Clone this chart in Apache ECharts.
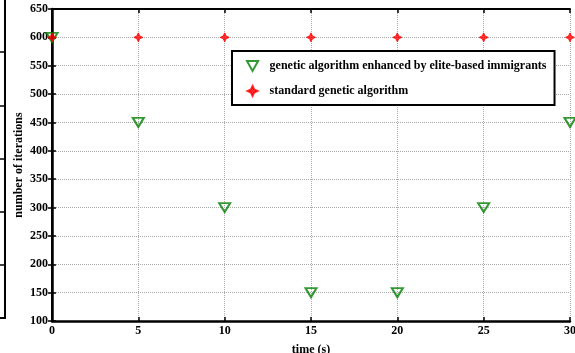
<!DOCTYPE html>
<html>
<head>
<meta charset="utf-8">
<script src="https://cdn.jsdelivr.net/npm/echarts@6/dist/echarts.min.js"></script>
<style>
  html, body { margin: 0; padding: 0; background: #fff; }
  #chart { width: 575px; height: 353px; }
</style>
</head>
<body>
<div id="chart"></div>
<script>
// Time samples (s) and iteration counts for the two algorithms
const timeSeconds = [0, 5, 10, 15, 20, 25, 30];
const eliteImmigrantsIterations = [600, 450, 300, 150, 150, 300, 450];
const standardGaIterations = [600, 600, 600, 600, 600, 600, 600];
const seriesNames = [
  'genetic algorithm enhanced by elite-based immigrants',
  'standard genetic algorithm'
];
const xLabel = 'time (s)';
const yLabel = 'number of iterations';

const FONT = '"Liberation Serif", "Times New Roman", serif';
const toPairs = (xs, ys) => xs.map((x, i) => [x, ys[i]]);

const downTriangle = 'path://M0,0 L10,0 L5,9 Z';
const redStar = 'path://M5,0 L6.6,3.4 L10,5 L6.6,6.6 L5,10 L3.4,6.6 L0,5 L3.4,3.4 Z';

const frameAxis = {
  type: 'value',
  min: 0, max: 30, interval: 5,
  axisLine: { show: true, lineStyle: { color: '#000', width: 2 } },
  axisTick: { show: true, inside: true, length: 4, lineStyle: { color: '#000', width: 1.5 } },
  axisLabel: { show: false },
  splitLine: { show: false }
};

const chart = echarts.init(document.getElementById('chart'), null, { renderer: 'canvas' });
chart.setOption({
  animation: false,
  backgroundColor: '#fff',
  grid: { left: 52, right: 5, top: 9, bottom: 32, containLabel: false, outerBoundsMode: 'none' },
  xAxis: [
    {
      type: 'value', min: 0, max: 30, interval: 5, position: 'bottom',
      name: xLabel, nameLocation: 'middle', nameGap: 23, nameMoveOverlap: false,
      nameTextStyle: { fontFamily: FONT, fontWeight: 'bold', fontSize: 12, color: '#000' },
      axisLine: { show: true, lineStyle: { color: '#000', width: 2.5 } },
      axisTick: { show: true, inside: true, length: 4, lineStyle: { color: '#000', width: 1.5 } },
      axisLabel: { fontFamily: FONT, fontWeight: 'bold', fontSize: 12, color: '#000', margin: 4 },
      splitLine: { show: true, lineStyle: { color: '#aaa', type: 'dotted', width: 1 } }
    },
    Object.assign({}, frameAxis, { position: 'top' })
  ],
  yAxis: [
    {
      type: 'value', min: 100, max: 650, interval: 50, position: 'left',
      name: yLabel, nameLocation: 'middle', nameGap: 27, nameRotate: 90, nameMoveOverlap: false,
      nameTextStyle: { fontFamily: FONT, fontWeight: 'bold', fontSize: 12, color: '#000' },
      axisLine: { show: true, lineStyle: { color: '#000', width: 2.5 } },
      axisTick: { show: true, inside: true, length: 4, lineStyle: { color: '#000', width: 1.5 } },
      axisLabel: { fontFamily: FONT, fontWeight: 'bold', fontSize: 12, color: '#000', margin: 4 },
      splitLine: { show: true, lineStyle: { color: '#aaa', type: 'dotted', width: 1 } }
    },
    Object.assign({}, frameAxis, { min: 100, max: 650, interval: 50, position: 'right' })
  ],
  legend: {
    orient: 'vertical',
    left: 232, top: 51,
    padding: [9, 8, 8, 14],
    itemGap: 13,
    itemWidth: 12, itemHeight: 10,
    backgroundColor: '#fff',
    borderColor: '#000',
    borderWidth: 2,
    textStyle: { fontFamily: FONT, fontWeight: 'bold', fontSize: 12, color: '#000', padding: [0, 0, 0, 6] },
    data: seriesNames
  },
  series: [
    {
      name: seriesNames[0],
      type: 'scatter',
      data: toPairs(timeSeconds, eliteImmigrantsIterations),
      symbol: downTriangle,
      symbolSize: [11, 9],
      clip: false,
      itemStyle: { color: 'rgba(255,255,255,0)', borderColor: '#008000', borderWidth: 2 },
      z: 5
    },
    {
      name: seriesNames[1],
      type: 'scatter',
      data: toPairs(timeSeconds, standardGaIterations),
      symbol: redStar,
      symbolSize: 9,
      clip: false,
      itemStyle: { color: '#ff0000', borderColor: '#ff0000', borderWidth: 1 },
      z: 6
    }
  ],
  graphic: [
    {
      type: 'group',
      silent: true,
      children: [
        { type: 'line', shape: { x1: 5, y1: 0, x2: 5, y2: 318 }, style: { stroke: '#000', lineWidth: 2 } },
        { type: 'line', shape: { x1: 0, y1: 52, x2: 5, y2: 52 }, style: { stroke: '#000', lineWidth: 1.5 } },
        { type: 'line', shape: { x1: 0, y1: 106, x2: 5, y2: 106 }, style: { stroke: '#000', lineWidth: 1.5 } },
        { type: 'line', shape: { x1: 0, y1: 159, x2: 5, y2: 159 }, style: { stroke: '#000', lineWidth: 1.5 } },
        { type: 'line', shape: { x1: 0, y1: 212, x2: 5, y2: 212 }, style: { stroke: '#000', lineWidth: 1.5 } },
        { type: 'line', shape: { x1: 0, y1: 265, x2: 5, y2: 265 }, style: { stroke: '#000', lineWidth: 1.5 } },
        { type: 'line', shape: { x1: 0, y1: 318, x2: 6, y2: 318 }, style: { stroke: '#000', lineWidth: 2 } }
      ]
    }
  ]
});
</script>
</body>
</html>
